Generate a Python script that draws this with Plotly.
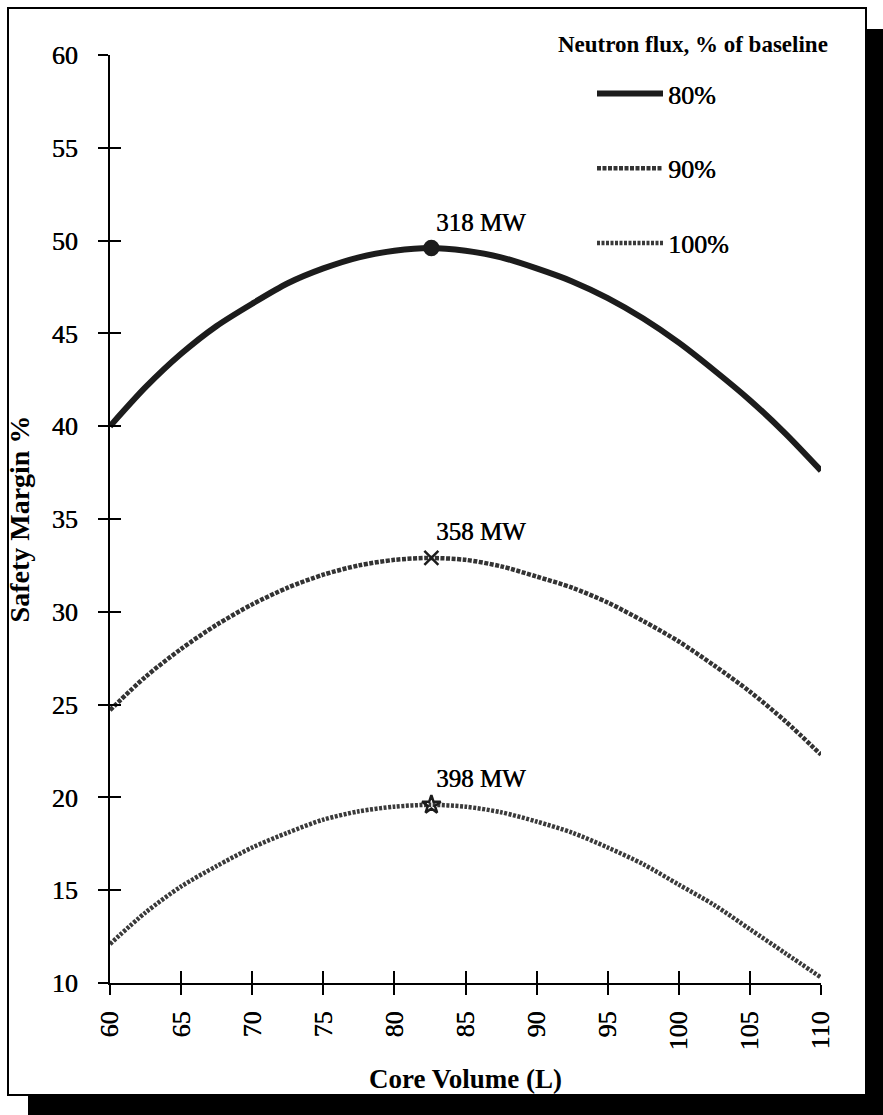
import plotly.graph_objects as go

# ---- data ----
core_volume = [60, 62.5, 65, 67.5, 70, 72.5, 75, 77.5, 80, 82.5, 85, 87.5, 90, 92.5, 95, 97.5, 100, 102.5, 105, 107.5, 110]
flux_80 = [40.0, 42.1, 43.9, 45.4, 46.6, 47.7, 48.5, 49.1, 49.45, 49.6, 49.45, 49.1, 48.5, 47.8, 46.9, 45.8, 44.5, 43.0, 41.4, 39.6, 37.6]
flux_90 = [24.7, 26.5, 28.0, 29.3, 30.4, 31.3, 32.0, 32.5, 32.8, 32.9, 32.8, 32.45, 31.9, 31.3, 30.5, 29.5, 28.4, 27.1, 25.7, 24.1, 22.3]
flux_100 = [12.1, 13.8, 15.2, 16.3, 17.3, 18.1, 18.8, 19.25, 19.5, 19.6, 19.5, 19.2, 18.7, 18.1, 17.3, 16.4, 15.3, 14.2, 12.9, 11.6, 10.3]
series_names = ["80%", "90%", "100%"]
peak_x = [82.6, 82.6, 82.6]
peak_y = [49.6, 32.9, 19.6]
peak_labels = ["318 MW", "358 MW", "398 MW"]
x_ticks = [60, 65, 70, 75, 80, 85, 90, 95, 100, 105, 110]
y_ticks = [10, 15, 20, 25, 30, 35, 40, 45, 50, 55, 60]

FONT = "Liberation Serif"
SHADOW = "0.5px 0px 0px black"
series = [flux_80, flux_90, flux_100]
line_styles = [
    dict(color="#1c1c1c", width=6, dash="solid"),
    dict(color="#333333", width=4.5, dash="4px,1.5px"),
    dict(color="#3a3a3a", width=4.5, dash="3px,1.5px"),
]
marker_symbols = ["circle", "x-thin-open", "star-open"]

fig = go.Figure()
for i, (name, ys) in enumerate(zip(series_names, series)):
    fig.add_trace(go.Scatter(
        x=core_volume, y=ys, mode="lines", name=name,
        line=dict(shape="spline", smoothing=0.8, **line_styles[i]),
        legendgroup=name,
    ))
for i in range(3):
    fig.add_trace(go.Scatter(
        x=[peak_x[i]], y=[peak_y[i]], mode="markers", showlegend=False,
        marker=dict(symbol=marker_symbols[i], size=14, color="#1c1c1c",
                    line=dict(color="#1c1c1c", width=2.5)),
    ))
    fig.add_annotation(x=peak_x[i] + 3.5, y=peak_y[i] + 1.4, text=peak_labels[i],
                       showarrow=False,
                       font=dict(family=FONT, size=25, color="black", shadow=SHADOW),
                       xref="x", yref="y")

# duplicate axes to draw ticks crossing the axis lines
fig.add_trace(go.Scatter(x=[None], y=[None], xaxis="x2", yaxis="y2", showlegend=False))

L, R, T, B = 110, 62, 55, 132
W, H = 883, 1115
pw, ph = W - L - R, H - T - B

def px(xp):
    return (xp - L) / pw

def py(yp):
    return (H - B - yp) / ph

axis_common = dict(showgrid=False, zeroline=False, showline=True, linecolor="black",
                   linewidth=2, tickcolor="black", tickwidth=2)
fig.update_layout(
    width=W, height=H,
    margin=dict(l=L, r=R, t=T, b=B),
    paper_bgcolor="white", plot_bgcolor="white",
    font=dict(family=FONT, color="black"),
    xaxis=dict(range=[60, 110], tickvals=x_ticks, ticks="outside", ticklen=10,
               tickangle=-90, tickfont=dict(family=FONT, size=26, shadow=SHADOW),
               ticklabelstandoff=6,
               title=dict(text="<b>Core Volume (L)</b>", font=dict(family=FONT, size=27), standoff=20),
               **axis_common),
    yaxis=dict(range=[10, 60], tickvals=y_ticks, ticks="outside", ticklen=10,
               tickfont=dict(family=FONT, size=26, shadow=SHADOW), ticklabelstandoff=15,
               title=dict(text="<b>Safety Margin %</b>", font=dict(family=FONT, size=28), standoff=14),
               **axis_common),
    xaxis2=dict(range=[60, 110], tickvals=x_ticks, ticks="inside", ticklen=12,
                showticklabels=False, overlaying="x", anchor="y2", **axis_common),
    yaxis2=dict(range=[10, 60], tickvals=y_ticks, ticks="inside", ticklen=11,
                showticklabels=False, overlaying="y", anchor="x2", **axis_common),
    legend=dict(x=px(592), y=py(70), xanchor="left", yanchor="top", itemwidth=66,
                font=dict(family=FONT, size=26, shadow=SHADOW), bgcolor="rgba(0,0,0,0)",
                traceorder="grouped", tracegroupgap=38),
    showlegend=True,
)

fig.add_annotation(x=px(830), y=py(45), xref="paper", yref="paper", xanchor="right",
                   yanchor="middle", showarrow=False,
                   text="<b>Neutron flux, % of baseline</b>",
                   font=dict(family=FONT, size=23, color="black"))

# frame and drop shadow
fig.add_shape(type="rect", xref="paper", yref="paper", x0=px(866), x1=px(883), y0=py(1115), y1=py(29),
              fillcolor="black", line=dict(width=0), layer="below")
fig.add_shape(type="rect", xref="paper", yref="paper", x0=px(28), x1=px(883), y0=py(1115), y1=py(1095),
              fillcolor="black", line=dict(width=0), layer="below")
fig.add_shape(type="rect", xref="paper", yref="paper", x0=px(8), x1=px(866), y0=py(1095), y1=py(8),
              fillcolor="white", line=dict(color="black", width=2), layer="below")

fig.write_html("out.html", config={"displayModeBar": False},
               post_script="document.body.style.margin='0';document.body.style.overflow='hidden';")
